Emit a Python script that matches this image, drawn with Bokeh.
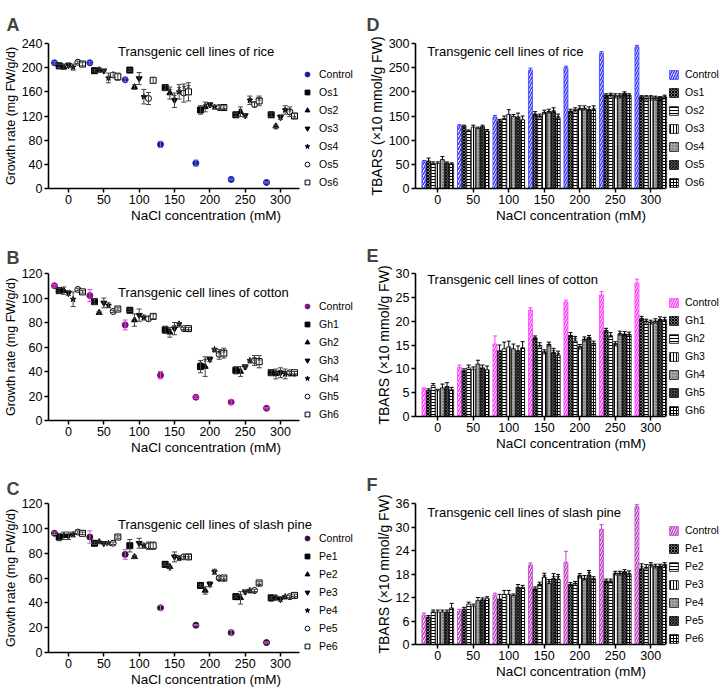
from bokeh.plotting import figure
from bokeh.layouts import gridplot
from bokeh.models import (ColumnDataSource, Whisker, TeeHead, Legend, LegendItem,
                          Label, FixedTicker)
from bokeh.core.properties import value
from bokeh.embed import file_html
from bokeh.resources import INLINE

FONT = "Liberation Sans"

conc = [0, 50, 100, 150, 200, 250, 300]

# ---------------- A: growth rate, rice ----------------
A_names = ["Control", "Os1", "Os2", "Os3", "Os4", "Os5", "Os6"]
A_Control = [208, 208, 180, 73, 42, 15, 10]
A_Os1 = [203, 195, 196, 167, 130, 122, 122]
A_Os2 = [201, 196, 168, 158, 135, 127, 103]
A_Os3 = [204, 195, 182, 146, 139, 121, 118]
A_Os4 = [201, 183, 152, 160, 135, 146, 130]
A_Os5 = [209, 188, 149, 158, 134, 139, 127]
A_Os6 = [206, 185, 179, 160, 134, 145, 120]
A_err = [[2, 2, 3, 5, 5, 1, 1], [3, 2, 2, 4, 7, 3, 3], [4, 4, 4, 10, 8, 8, 2],
         [4, 2, 10, 12, 3, 3, 4], [5, 8, 12, 12, 3, 7, 7], [2, 4, 10, 15, 3, 4, 8],
         [3, 6, 5, 15, 3, 8, 4]]
A_stars = [[0, 0, 0, 1, 1, 0, 1], [0, 0, 0, 1, 1, 1, 1], [0, 0, 0, 1, 1, 0, 1],
           [0, 0, 0, 1, 1, 1, 1], [0, 0, 0, 1, 1, 0, 1], [0, 0, 0, 1, 1, 1, 1]]

# ---------------- B: growth rate, cotton ----------------
B_names = ["Control", "Gh1", "Gh2", "Gh3", "Gh4", "Gh5", "Gh6"]
B_Control = [110, 102, 78, 37, 19, 15, 10]
B_Gh1 = [106, 97, 90, 74, 44, 41, 39]
B_Gh2 = [106, 88, 82, 72, 44, 40, 38]
B_Gh3 = [104, 96, 86, 75, 50, 44, 39]
B_Gh4 = [99, 94, 84, 79, 58, 49, 38]
B_Gh5 = [107, 89, 83, 75, 54, 49, 39]
B_Gh6 = [105, 91, 85, 75, 55, 48, 39]
B_err = [[1, 5, 4, 3, 1, 2, 0.5], [2, 2, 1, 3, 5, 3, 2], [3, 1, 5, 4, 8, 4, 4],
         [2, 4, 5, 5, 2, 1, 4], [6, 2, 2, 1, 1, 1, 4], [1, 1, 2, 1, 4, 4, 1],
         [1, 1, 2, 1, 4, 5, 1]]
B_stars = [[0, 0, 0, 1, 1, 0, 1], [0, 0, 0, 1, 1, 1, 1], [0, 0, 0, 1, 1, 1, 1],
           [0, 0, 0, 1, 1, 1, 1], [0, 0, 0, 1, 1, 1, 1], [0, 0, 0, 1, 1, 1, 1]]

# ---------------- C: growth rate, slash pine ----------------
C_names = ["Control", "Pe1", "Pe2", "Pe3", "Pe4", "Pe5", "Pe6"]
C_Control = [96, 93, 79, 36, 22, 16, 8]
C_Pe1 = [93, 88, 86, 71, 54, 45, 44]
C_Pe2 = [94, 89, 77, 69, 50, 44, 44]
C_Pe3 = [94, 88, 88, 77, 55, 49, 43]
C_Pe4 = [95, 88, 86, 76, 65, 50, 45]
C_Pe5 = [97, 88, 86, 77, 60, 50, 45]
C_Pe6 = [96, 93, 86, 77, 60, 56, 46]
C_err = [[1, 5, 4, 2, 0.5, 2, 0.5], [3, 1, 5, 1, 1, 1, 1], [3, 1, 1, 1, 3, 5, 2],
         [3, 1, 4, 4, 2, 1, 2], [2, 1, 2, 2, 2, 1, 1], [1, 1, 3, 2, 1, 1, 1],
         [1, 1, 3, 2, 1, 1, 1]]
C_stars = [[0, 0, 0, 1, 1, 1, 1]] * 6

# ---------------- D: TBARS, rice ----------------
D_names = A_names
D_Control = [55, 130, 148, 245, 250, 280, 293]
D_Os1 = [57, 129, 140, 154, 160, 193, 190]
D_Os2 = [52, 119, 145, 150, 163, 194, 190]
D_Os3 = [52, 127, 153, 157, 165, 193, 190]
D_Os4 = [60, 124, 149, 159, 166, 193, 189]
D_Os5 = [52, 128, 148, 159, 163, 197, 188]
D_Os6 = [51, 119, 142, 146, 163, 193, 190]
D_err = [[3, 2, 3, 4, 3, 3, 3], [6, 2, 3, 5, 4, 3, 2], [3, 2, 5, 4, 4, 3, 2],
         [3, 4, 10, 5, 6, 3, 2], [6, 3, 4, 5, 5, 3, 2], [3, 3, 8, 8, 6, 3, 2],
         [2, 3, 8, 8, 8, 3, 3]]
D_stars = [[0, 0, 0, 1, 1, 1, 1]] * 6

# ---------------- E: TBARS, cotton ----------------
E_names = B_names
E_Control = [5.8, 10.3, 15.2, 22.3, 24.0, 25.5, 28.0]
E_Gh1 = [5.5, 9.6, 13.8, 16.5, 17.0, 18.0, 20.5]
E_Gh2 = [6.5, 10.2, 14.2, 14.9, 15.8, 16.8, 20.0]
E_Gh3 = [5.4, 9.9, 14.6, 13.6, 14.7, 15.3, 19.8]
E_Gh4 = [6.0, 11.0, 14.2, 15.1, 16.2, 17.3, 20.0]
E_Gh5 = [6.3, 10.2, 13.8, 13.4, 16.5, 17.3, 20.3]
E_Gh6 = [5.6, 9.8, 14.4, 12.9, 15.3, 17.2, 20.2]
E_err = [[0.2, 0.5, 1.7, 0.5, 0.4, 0.7, 0.8], [0.3, 0.4, 1.2, 0.4, 0.6, 0.5, 0.5],
         [0.4, 0.6, 1.4, 0.6, 1.0, 0.8, 0.4], [0.3, 0.5, 1.2, 0.4, 0.4, 0.4, 0.4],
         [0.8, 0.8, 1.0, 0.5, 0.5, 0.6, 0.5], [0.8, 0.6, 1.0, 0.9, 0.5, 0.5, 0.6],
         [0.5, 0.8, 1.3, 0.8, 0.5, 0.5, 0.6]]
E_stars = [[0, 0, 0, 1, 1, 1, 1]] * 6

# ---------------- F: TBARS, slash pine ----------------
F_names = C_names
F_Control = [7.5, 8.5, 12.6, 20.3, 21.0, 29.4, 35.2]
F_Pe1 = [7.0, 9.0, 11.6, 14.2, 15.3, 16.2, 19.3]
F_Pe2 = [8.3, 10.3, 12.8, 15.4, 15.6, 16.2, 19.6]
F_Pe3 = [8.3, 9.8, 12.8, 17.2, 17.6, 18.2, 20.4]
F_Pe4 = [8.3, 11.2, 12.5, 15.6, 16.8, 18.2, 20.0]
F_Pe5 = [8.3, 11.4, 14.6, 16.8, 17.7, 18.6, 20.0]
F_Pe6 = [9.3, 11.8, 14.6, 16.6, 16.8, 18.0, 20.4]
F_err = [[0.5, 0.5, 0.5, 0.5, 2.8, 1.2, 0.5], [0.4, 0.5, 1.2, 0.5, 0.5, 0.5, 1.3],
         [0.5, 0.5, 1.0, 0.5, 0.5, 0.5, 0.8], [0.5, 0.5, 1.0, 1.0, 0.5, 0.5, 0.5],
         [0.5, 0.8, 0.4, 1.0, 0.8, 0.5, 0.5], [0.5, 0.5, 0.7, 1.3, 1.2, 0.5, 0.5],
         [1.2, 0.4, 0.5, 1.3, 0.5, 0.8, 0.5]]
F_stars = [[0, 0, 0, 1, 1, 1, 1]] * 6


def style(p, letter, standoff, ylabel, yticks, ylabel_size, xbounds):
    p.title.text = letter
    p.title.text_font = FONT
    p.title.text_font_size = "18px"
    p.title.text_font_style = "bold"
    p.title.align = "left"
    p.title.offset = -p.min_border_left + 3
    p.title.standoff = standoff
    p.xaxis.axis_label = "NaCl concentration (mM)"
    p.yaxis.axis_label = ylabel
    p.xaxis.ticker = FixedTicker(ticks=conc)
    p.yaxis.ticker = FixedTicker(ticks=yticks)
    p.xaxis.bounds = xbounds
    for ax in (p.xaxis[0], p.yaxis[0]):
        ax.axis_line_width = 1.6
        ax.axis_line_color = "black"
        ax.major_tick_line_width = 1.5
        ax.major_tick_line_color = "black"
        ax.major_tick_in = 0
        ax.major_tick_out = 4
        ax.minor_tick_line_color = None
        ax.major_label_text_font = FONT
        ax.major_label_text_font_size = "12.5px"
        ax.major_label_text_color = "black"
        ax.axis_label_text_font = FONT
        ax.axis_label_text_font_style = "normal"
        ax.axis_label_text_color = "black"
    p.xaxis.major_label_standoff = 2
    p.yaxis.major_label_standoff = 2
    p.xaxis.axis_label_standoff = 1
    p.yaxis.axis_label_standoff = 1
    p.xaxis.axis_label_text_font_size = "13.5px"
    p.yaxis.axis_label_text_font_size = ylabel_size
    p.xgrid.visible = False
    p.ygrid.visible = False
    p.outline_line_color = None
    p.background_fill_color = "white"
    p.border_fill_color = "white"


def add_legend(p, items, glyph, loc):
    leg = Legend(items=items, location=loc, orientation="vertical",
                 label_text_font=FONT, label_text_font_size="10.5px",
                 label_text_color="black",
                 glyph_width=glyph, glyph_height=glyph, label_height=12,
                 label_standoff=6, spacing=6, padding=0, margin=0,
                 border_line_color=None, background_fill_alpha=0)
    p.add_layout(leg, "center")


def add_stars(p, xs, hi, st):
    sx = [x for x, f in zip(xs, st) if f]
    sy = [h for h, f in zip(hi, st) if f]
    if sx:
        p.text(sx, sy, text=["*"] * len(sx), text_align="center",
               text_baseline="alphabetic", y_offset=5,
               text_font=value(FONT), text_font_size="11px", text_color="black")


def scatter_panel(letter, inner, inner_y, names, vals, errs, stars, ctrl_fill, ctrl_err,
                  ymax, ystep, top, frame_h, bottom, standoff):
    # the frame spans the legend column too; the x axis line is bounded to the data span
    x0, scale = -28.3, 0.7067
    p = figure(frame_width=315, frame_height=frame_h, min_border_left=45,
               min_border_right=0, min_border_top=top, min_border_bottom=bottom,
               x_range=(x0, x0 + 315 / scale), y_range=(0, ymax), output_backend="svg",
               toolbar_location=None)
    style(p, letter, standoff, "Growth rate (mg FW/g/d)", list(range(0, ymax + 1, ystep)),
          "12.5px", (x0, 327))
    markers = ["circle", "square", "triangle", "inverted_triangle", "star", "circle", "square"]
    items = []
    for i, (nm, v, e) in enumerate(zip(names, vals, errs)):
        xs = [c + (i - 3) * 6.6 for c in conc]
        lo = [a - b for a, b in zip(v, e)]
        hi = [a + b for a, b in zip(v, e)]
        src = ColumnDataSource(dict(x=xs, y=v, lo=lo, hi=hi))
        ecol = ctrl_err if i == 0 else "#444444"
        p.add_layout(Whisker(source=src, base="x", lower="lo", upper="hi",
                             line_color=ecol, line_width=1, level="glyph",
                             upper_head=TeeHead(size=5, line_color=ecol, line_width=1),
                             lower_head=TeeHead(size=5, line_color=ecol, line_width=1)))
        if i == 0:
            fill, line = ctrl_fill, ctrl_fill
        elif i >= 5:
            fill, line = "white", "black"
        else:
            fill, line = "black", "black"
        r = p.scatter("x", "y", source=src, marker=markers[i], size=6,
                      fill_color=fill, line_color=line, line_width=1)
        items.append(LegendItem(label=nm, renderers=[r]))
        if i > 0:
            add_stars(p, xs, hi, stars[i - 1])
    p.add_layout(Label(x=70, y=inner_y, text=inner, text_font=FONT, text_font_size="13px",
                       text_baseline="middle", text_align="left", text_color="black"))
    add_legend(p, items, 12, (253, 0))
    return p


def bar_panel(letter, inner, inner_y, names, vals, errs, stars, ctrl_color,
              ymax, ystep, top, frame_h, bottom, standoff):
    x0, scale = -31.4, 0.71
    p = figure(frame_width=311, frame_height=frame_h, min_border_left=52,
               min_border_right=0, min_border_top=top, min_border_bottom=bottom,
               x_range=(x0, x0 + 311 / scale), y_range=(0, ymax), output_backend="svg",
               toolbar_location=None)
    style(p, letter, standoff, "TBARS (\u00d710 mmol/g FW)", list(range(0, ymax + 1, ystep)),
          "14px", (x0, 321))
    fills = [
        dict(fill_color="white", hatch_pattern="right_diagonal_line", hatch_color=ctrl_color,
             hatch_scale=5, hatch_weight=1.5, line_color=ctrl_color),
        dict(fill_color="#7a7a7a", hatch_pattern="diagonal_cross", hatch_color="black",
             hatch_scale=3, hatch_weight=1, line_color="black"),
        dict(fill_color="white", hatch_pattern="horizontal_line", hatch_color="black",
             hatch_scale=3, hatch_weight=1, line_color="black"),
        dict(fill_color="white", hatch_pattern="vertical_line", hatch_color="black",
             hatch_scale=3, hatch_weight=1, line_color="black"),
        dict(fill_color="#a8a8a8", hatch_pattern="dot", hatch_color="#555555",
             hatch_scale=3, hatch_weight=1, line_color="black"),
        dict(fill_color="#505050", hatch_pattern="diagonal_cross", hatch_color="#1a1a1a",
             hatch_scale=3, hatch_weight=1, line_color="black"),
        dict(fill_color="white", hatch_pattern="cross", hatch_color="black",
             hatch_scale=3, hatch_weight=1, line_color="black"),
    ]
    items = []
    for i, (nm, v, e) in enumerate(zip(names, vals, errs)):
        xs = [c + (i - 3) * 6.5 for c in conc]
        hi = [a + b for a, b in zip(v, e)]
        src = ColumnDataSource(dict(x=xs, top=v, hi=hi))
        r = p.vbar(x="x", top="top", bottom=0, width=5.6, source=src, line_width=0.8,
                   **fills[i])
        ecol = ctrl_color if i == 0 else "black"
        p.add_layout(Whisker(source=src, base="x", lower="top", upper="hi",
                             line_color=ecol, line_width=1, level="glyph",
                             upper_head=TeeHead(size=4, line_color=ecol, line_width=1),
                             lower_head=None))
        items.append(LegendItem(label=nm, renderers=[r]))
        if i > 0:
            add_stars(p, xs, hi, stars[i - 1])
    p.add_layout(Label(x=-15, y=inner_y, text=inner, text_font=FONT, text_font_size="13px",
                       text_baseline="middle", text_align="left", text_color="black"))
    add_legend(p, items, 11, (253, 0))
    return p


pA = scatter_panel("A", "Transgenic cell lines of rice", 226.1, A_names,
                   [A_Control, A_Os1, A_Os2, A_Os3, A_Os4, A_Os5, A_Os6], A_err, A_stars,
                   "#1f1f8c", "#5c6cff", 240, 40, 43, 145, 44, 18)
pB = scatter_panel("B", "Transgenic cell lines of cotton", 104.5, B_names,
                   [B_Control, B_Gh1, B_Gh2, B_Gh3, B_Gh4, B_Gh5, B_Gh6], B_err, B_stars,
                   "#7d127d", "#e040e0", 120, 20, 37, 147, 44, 12)
pC = scatter_panel("C", "Transgenic cell lines of slash pine", 103.4, C_names,
                   [C_Control, C_Pe1, C_Pe2, C_Pe3, C_Pe4, C_Pe5, C_Pe6], C_err, C_stars,
                   "#3a0c3a", "#b468c8", 120, 20, 35, 149, 44, 10)
pD = bar_panel("D", "Transgenic cell lines of rice", 282.6, D_names,
               [D_Control, D_Os1, D_Os2, D_Os3, D_Os4, D_Os5, D_Os6], D_err, D_stars,
               "#3a3aff", 300, 50, 43, 145, 44, 18)
pE = bar_panel("E", "Transgenic cell lines of cotton", 28.7, E_names,
               [E_Control, E_Gh1, E_Gh2, E_Gh3, E_Gh4, E_Gh5, E_Gh6], E_err, E_stars,
               "#ff3cff", 30, 5, 41, 143, 44, 16)
pF = bar_panel("F", "Transgenic cell lines of slash pine", 33.6, F_names,
               [F_Control, F_Pe1, F_Pe2, F_Pe3, F_Pe4, F_Pe5, F_Pe6], F_err, F_stars,
               "#c040c8", 36, 6, 43, 141, 44, 18)

grid = gridplot([[pA, pD], [pB, pE], [pC, pF]], toolbar_location=None)
open("out.html", "w").write(file_html(grid, INLINE))
